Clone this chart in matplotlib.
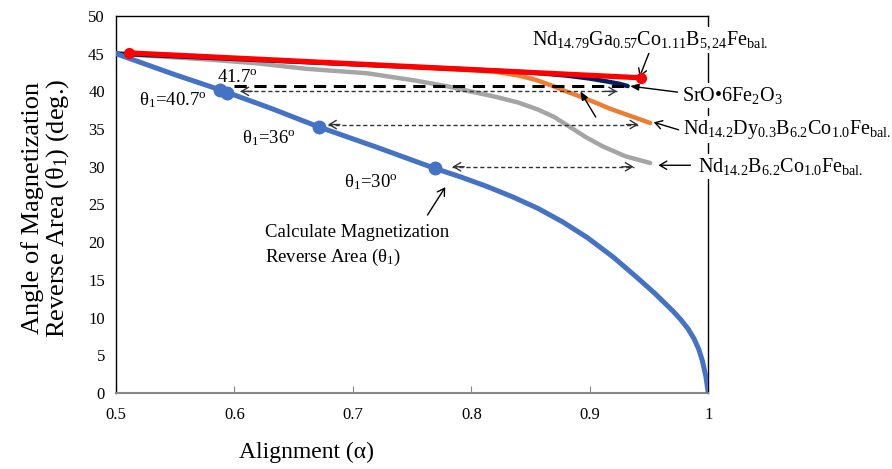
import numpy as np
import matplotlib
matplotlib.use("Agg")
from matplotlib import pyplot as plt

plt.rcParams['font.family'] = ['Liberation Serif', 'DejaVu Serif']
plt.rcParams['mathtext.fontset'] = 'custom'
plt.rcParams['mathtext.rm'] = 'Liberation Serif'
plt.rcParams['mathtext.it'] = 'Liberation Serif:italic'

# calculated curve (theta1 vs alignment)
calc_x = [0.5, 0.55, 0.588, 0.63, 0.671, 0.72, 0.769, 0.792, 0.813, 0.835, 0.856, 0.877, 0.898,
          0.92, 0.94, 0.955, 0.97, 0.977, 0.983, 0.988, 0.992, 0.995, 0.998, 1.0]
calc_y = [45.0, 42.2, 40.2, 37.8, 35.3, 32.6, 29.8, 28.6, 27.4, 26.0, 24.5, 22.7, 20.6,
          18.0, 15.3, 13.2, 10.9, 9.7, 8.5, 7.2, 5.8, 4.3, 2.2, 0.0]
calc_pts_x = [0.588, 0.594, 0.671, 0.769]
calc_pts_y = [40.2, 39.8, 35.3, 29.8]

# measured materials
ndga_x = [0.511, 0.943]
ndga_y = [45.1, 41.8]
sro_x = [0.5, 0.6, 0.7, 0.8, 0.85, 0.88, 0.9, 0.915, 0.925, 0.932]
sro_y = [45.0, 44.3, 43.6, 42.9, 42.5, 42.1, 41.7, 41.3, 41.0, 40.7]
nddy_x = [0.5, 0.6, 0.7, 0.8, 0.82, 0.84, 0.855, 0.869, 0.88, 0.892, 0.905, 0.917, 0.935, 0.951]
nddy_y = [45.0, 44.3, 43.6, 42.8, 42.6, 42.1, 41.5, 40.7, 40.0, 39.3, 38.5, 37.7, 36.7, 35.8]
ndb_x = [0.5, 0.58, 0.62, 0.66, 0.712, 0.754, 0.782, 0.799, 0.82, 0.84, 0.856, 0.87,
         0.883, 0.897, 0.911, 0.93, 0.951]
ndb_y = [45.0, 44.2, 43.7, 43.0, 42.4, 41.4, 40.6, 40.0, 39.3, 38.5, 37.6, 36.6,
         35.3, 33.9, 32.7, 31.4, 30.5]

# dashed double arrows: y, x_left, x_right
arr_y = [40.0, 35.6, 30.0]
arr_x0 = [0.605, 0.679, 0.784]
arr_x1 = [0.923, 0.941, 0.937]

xticks = [0.5, 0.6, 0.7, 0.8, 0.9, 1.0]
xtick_labels = ['0.5', '0.6', '0.7', '0.8', '0.9', '1']
yticks = [0, 5, 10, 15, 20, 25, 30, 35, 40, 45, 50]

fig = plt.figure(figsize=(8.92, 4.69), dpi=100)
ax = fig.add_axes([0.130, 0.162, 0.664, 0.804])

lk = dict(solid_capstyle='round', solid_joinstyle='round', zorder=3)
ax.plot(ndb_x, ndb_y, color='#A5A5A5', lw=3.2, **lk)
ax.plot(nddy_x, nddy_y, color='#ED7D31', lw=3.2, **lk)
ax.plot(sro_x, sro_y, color='#002060', lw=3.2, **lk)
ax.plot(ndga_x, ndga_y, color='#FF0000', lw=3.8, marker='o', ms=7, zorder=4)
ax.plot(calc_x, calc_y, color='#4472C4', lw=3.6, **lk)
ax.plot(calc_pts_x, calc_pts_y, 'o', color='#4472C4', ms=9, zorder=4)

# thick dashed line at 40.7
ax.plot([0.6, sro_x[-1]], [sro_y[-1], sro_y[-1]], color='black', lw=2.2, dashes=(4, 2.5), zorder=5)

for y, x0, x1 in zip(arr_y, arr_x0, arr_x1):
    ax.plot([x0, x1], [y, y], color='#333333', lw=1.0, dashes=(3, 2), zorder=5)
    hp = dict(arrowstyle='->,head_length=0.5,head_width=0.3', color='#333333', lw=1.0, shrinkA=0, shrinkB=0)
    ax.annotate('', xy=(x0, y), xytext=(x0 + 0.01, y), arrowprops=hp)
    ax.annotate('', xy=(x1, y), xytext=(x1 - 0.01, y), arrowprops=hp)

ax.set_xlim(0.5, 1.0)
ax.set_ylim(0, 50)
ax.set_xticks(xticks)
ax.set_xticklabels(xtick_labels)
ax.set_yticks(yticks)
ax.tick_params(axis='x', direction='in', length=5, color='#888888', labelsize=12, pad=10)
ax.tick_params(axis='y', length=0, labelsize=12, pad=8)
for s in ['left', 'top', 'right']:
    ax.spines[s].set_color('black')
    ax.spines[s].set_linewidth(1.0)
ax.spines['bottom'].set_color('#888888')
ax.spines['bottom'].set_linewidth(1.5)

fs = 13.5
ax.text(0.603, 41.9, r'41.7$^{\mathrm{o}}$', fontsize=fs, ha='center', va='center', zorder=6)
ax.text(0.548, 38.9, r'θ$_1$=40.7$^{\mathrm{o}}$', fontsize=fs, ha='center', va='center')
ax.text(0.629, 33.8, r'θ$_1$=36$^{\mathrm{o}}$', fontsize=fs, ha='center', va='center')
ax.text(0.715, 27.9, r'θ$_1$=30$^{\mathrm{o}}$', fontsize=fs, ha='center', va='center')
ax.text(0.626, 19.5, 'Calculate Magnetization\nReverse Area (θ$_1$)', fontsize=fs,
        ha='left', va='center', linespacing=1.35)

box = dict(facecolor='white', edgecolor='none', pad=1.5)
lfs = 14.5
ax.text(0.951, 46.8, r'Nd$_{14.79}$Ga$_{0.57}$Co$_{1.11}$B$_{5,24}$Fe$_{\mathrm{bal.}}$',
        fontsize=lfs, ha='center', va='center', bbox=box, zorder=6)
ax.text(0.978, 39.5, r'SrO•6Fe$_2$O$_3$', fontsize=lfs, ha='left', va='center', bbox=box, zorder=6)
ax.text(0.979, 34.9, r'Nd$_{14.2}$Dy$_{0.3}$B$_{6.2}$Co$_{1.0}$Fe$_{\mathrm{bal.}}$',
        fontsize=lfs, ha='left', va='center', bbox=box, zorder=6)
ax.text(0.991, 30.0, r'Nd$_{14.2}$B$_{6.2}$Co$_{1.0}$Fe$_{\mathrm{bal.}}$',
        fontsize=lfs, ha='left', va='center', bbox=box, zorder=6)

ap = dict(arrowstyle='->,head_length=0.5,head_width=0.3', color='black', lw=1.0, shrinkA=0, shrinkB=0)
ax.annotate('', xy=(0.942, 41.9), xytext=(0.950, 45.1), arrowprops=ap, annotation_clip=False)
ax.annotate('', xy=(0.934, 40.7), xytext=(0.974, 39.9),
            arrowprops=dict(ap, arrowstyle='-|>,head_length=0.5,head_width=0.2'), annotation_clip=False)
ax.annotate('', xy=(0.954, 35.9), xytext=(0.975, 34.9), arrowprops=ap, annotation_clip=False)
ax.annotate('', xy=(0.958, 30.2), xytext=(0.985, 30.2), arrowprops=ap, annotation_clip=False)
ax.annotate('', xy=(0.892, 40.0), xytext=(0.905, 36.6),
            arrowprops=dict(ap, arrowstyle='-|>,head_length=0.5,head_width=0.2'))
ax.annotate('', xy=(0.778, 27.3), xytext=(0.763, 23.6), arrowprops=ap)

fig.text(0.052, 0.556, 'Angle of Magnetization\nReverse Area (θ$_1$) (deg.)', rotation=90,
         fontsize=19, ha='center', va='center', multialignment='center', linespacing=1.0)
fig.text(0.344, 0.036, 'Alignment (α)', fontsize=17, ha='center', va='center')

fig.savefig('out.png', dpi=100)
